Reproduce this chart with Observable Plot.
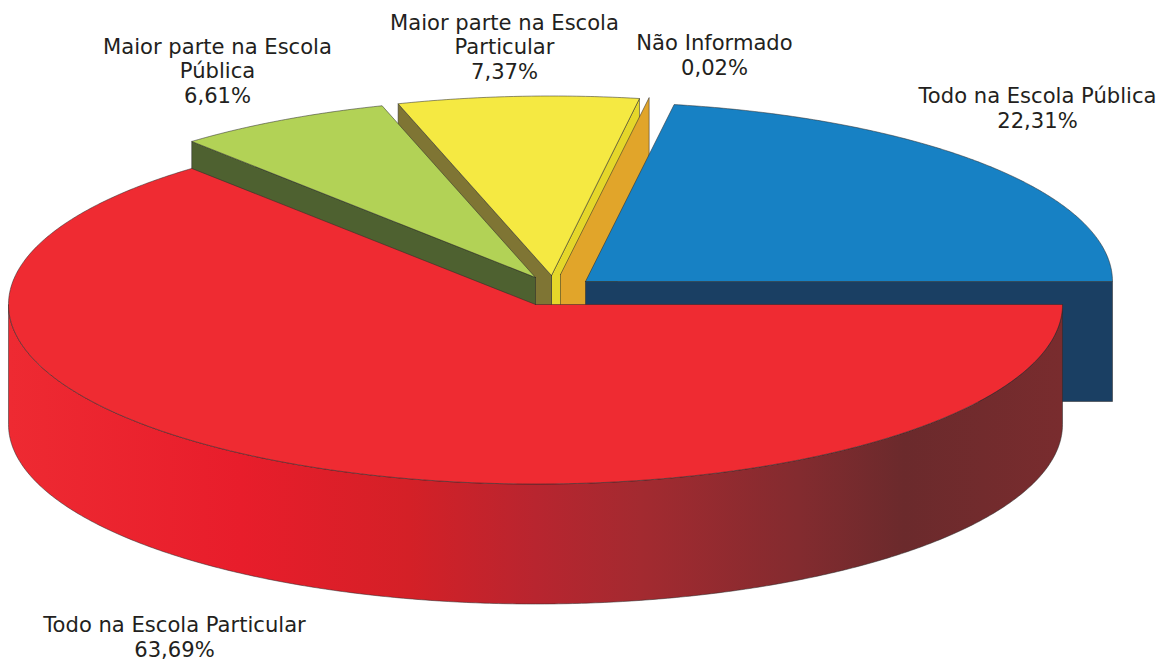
<!DOCTYPE html>
<html><head><meta charset="utf-8">
<script src="https://cdn.jsdelivr.net/npm/d3@7"></script>
<script src="https://cdn.jsdelivr.net/npm/@observablehq/plot@0.6"></script>
<style>html,body{margin:0;padding:0;background:#fff}svg{display:block}</style>
</head><body><div id="chart"></div>
<script>
const categories = ["Todo na Escola Pública","Não Informado","Maior parte na Escola Particular","Maior parte na Escola Pública","Todo na Escola Particular"];
const values = [22.31,0.02,7.37,6.61,63.69];
const valueLabels = ["22,31%","0,02%","7,37%","6,61%","63,69%"];
const labelLines = ["Todo na Escola Pública","Não Informado","Maior parte na Escola\nParticular","Maior parte na Escola\nPública","Todo na Escola Particular"];
const topColors = ["#1781c4","#e1a52a","#f5e942","#b2d256","#ef2b32"];
const faceColors = ["#1a3f63","#e1a52a","#e5d72a","#4e6130","#ef2b32"];
const yellowLeftFace = "#7f7534";

// layout of the exploded 3-D pie
const W = 1166, H = 663, RX = 527, RY = 179.5, DEPTH = 120;
const centers = [[585,281],[560,274],[551,275],[535,277],[535,304]];
const labelAnchors = [[1037,107],[714,54],[504,46],[217,70],[174,636]];

let acc = 0;
const slices = categories.map((name,i)=>{
  const a0 = acc/100*2*Math.PI; acc += values[i];
  const a1 = acc/100*2*Math.PI;
  return {name, a0, a1, cx:centers[i][0], cy:centers[i][1]};
});
const rim = (s,a,dz=0)=>({x:s.cx+RX*Math.cos(a), y:s.cy-RY*Math.sin(a)+dz});
const apex = (s,dz=0)=>({x:s.cx,y:s.cy+dz});
function arc(s,a0,a1,dz=0){
  const n = Math.max(2,Math.ceil(Math.abs(a1-a0)/(Math.PI/360)));
  return d3.range(n+1).map(k=>rim(s,a0+(a1-a0)*k/n,dz));
}
const closed = p=>[...p,p[0]];
const poly = (pts,fill,stroke="#2b2b2b",strokeWidth=0.7,strokeOpacity=0.75)=>
  Plot.line(closed(pts),{x:"x",y:"y",fill,stroke,strokeWidth,strokeOpacity,curve:"linear"});
const sliceTop = (s,fill)=>poly([apex(s),...arc(s,s.a0,s.a1)],fill);
const sliceFace = (s,a,fill)=>poly([apex(s),rim(s,a),rim(s,a,DEPTH),apex(s,DEPTH)],fill);

const [blue,orange,yellow,green,red] = slices;
const wall = [...arc(red,0,-Math.PI),...arc(red,-Math.PI,0,DEPTH)];

const gradientStops = [[0,"#ee2a32"],[0.22,"#e81d2b"],[0.38,"#d42027"],[0.5,"#b8252f"],[0.6,"#a32a30"],[0.75,"#832b2f"],[0.85,"#6b2a2c"],[1,"#792c2e"]];
const defsMark = ()=>{
  const defs = d3.create("svg:defs");
  const g = defs.append("linearGradient").attr("id","redWall").attr("x1",0).attr("x2",1).attr("y1",0).attr("y2",0);
  gradientStops.forEach(([o,c])=>g.append("stop").attr("offset",o).attr("stop-color",c));
  return defs.node();
};

const labels = categories.map((c,i)=>({x:labelAnchors[i][0],y:labelAnchors[i][1],text:labelLines[i]+"\n"+valueLabels[i]}));

const plot = Plot.plot({
  width:W,height:H,margin:0,
  x:{domain:[0,W],range:[0,W],axis:null},
  y:{domain:[0,H],range:[0,H],axis:null},
  marks:[
    defsMark,
    sliceFace(yellow,yellow.a0,faceColors[2]),
    sliceFace(yellow,yellow.a1,yellowLeftFace),
    sliceTop(yellow,topColors[2]),
    sliceFace(orange,orange.a0,faceColors[1]),
    sliceFace(green,green.a1,faceColors[3]),
    sliceTop(green,topColors[3]),
    sliceFace(blue,blue.a0,faceColors[0]),
    sliceTop(blue,topColors[0]),
    poly(wall,"url(#redWall)"),
    sliceTop(red,topColors[4]),
    Plot.text(labels,{x:"x",y:"y",text:"text",fontFamily:"DejaVu Sans",fontSize:21.1,lineHeight:1.17,fill:"#231f20",textAnchor:"middle"})
  ]
});
document.getElementById("chart").append(plot);
</script></body></html>
